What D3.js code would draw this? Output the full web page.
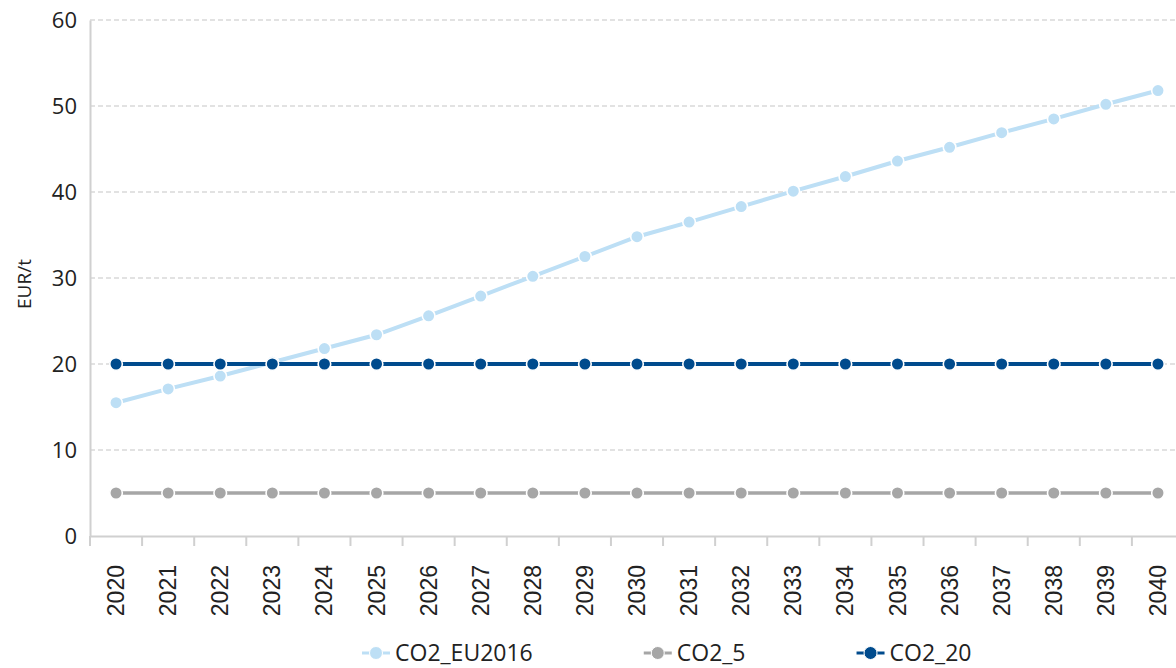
<!doctype html>
<html>
  <head>
    <meta charset="utf-8">
    <script src="https://cdnjs.cloudflare.com/ajax/libs/d3/7.8.5/d3.min.js"></script>
    <style>
      body { margin: 0; background: #fff; }
      svg { display: block; }
      .grid line { stroke: #d9d9d9; stroke-width: 1.5; stroke-dasharray: 5 3; }
      .ytick text { font-family: "Open Sans", sans-serif; font-size: 22px; fill: #222; }
      .xtick text { font-family: "Liberation Sans", Arial, sans-serif; font-size: 23px; fill: #222; }
      .legend text { font-family: "Open Sans", sans-serif; font-size: 23px; fill: #222; }
    </style>
  </head>
  <body>
    <svg id="chart" width="1176" height="668"></svg>
    <script>
      // chart data
      var years = ["2020","2021","2022","2023","2024","2025","2026","2027","2028","2029","2030",
                   "2031","2032","2033","2034","2035","2036","2037","2038","2039","2040"];
      var co2EU2016 = [15.5,17.1,18.6,20.2,21.8,23.4,25.6,27.9,30.2,32.5,34.8,
                       36.5,38.3,40.1,41.8,43.6,45.2,46.9,48.5,50.2,51.8];
      var co2_5  = [5,5,5,5,5,5,5,5,5,5,5,5,5,5,5,5,5,5,5,5,5];
      var co2_20 = [20,20,20,20,20,20,20,20,20,20,20,20,20,20,20,20,20,20,20,20,20];
      var yTicks = [0,10,20,30,40,50,60];

      var series = [
        { name: "CO2_EU2016", values: co2EU2016, color: "#bddff5", width: 4 },
        { name: "CO2_5",      values: co2_5,     color: "#a6a6a6", width: 3.5 },
        { name: "CO2_20",     values: co2_20,    color: "#004b8d", width: 4 }
      ];

      var svg = d3.select("#chart");
      var mLeft = 90, mRight = 1184, mTop = 20, mBottom = 536;

      var x = d3.scaleBand().domain(years).range([mLeft, mRight]);
      var y = d3.scaleLinear().domain([0, 60]).range([mBottom, mTop]);

      // dashed gridlines
      svg.append("g").attr("class", "grid")
        .selectAll("line").data(yTicks.filter(d => d > 0)).enter()
        .append("line")
          .attr("x1", mLeft).attr("x2", mRight)
          .attr("y1", d => y(d)).attr("y2", d => y(d));

      // y axis
      var yAxis = svg.append("g").attr("class", "ytick")
        .attr("transform", "translate(" + mLeft + ",0)")
        .call(d3.axisLeft(y).tickValues(yTicks).tickSize(0).tickPadding(13));
      yAxis.select(".domain").attr("stroke", "#d0d0d0").attr("stroke-width", 2);
      yAxis.selectAll("text").attr("dy", "0.35em");

      // x axis
      var xAxis = svg.append("g").attr("class", "xtick")
        .attr("transform", "translate(0," + mBottom + ")")
        .call(d3.axisBottom(x).tickSize(0));
      xAxis.select(".domain").attr("stroke", "#d0d0d0").attr("stroke-width", 2);
      xAxis.selectAll("text")
        .attr("transform", "rotate(-90)")
        .attr("text-anchor", "end")
        .attr("x", -29).attr("y", 0).attr("dy", "0.35em");

      // tick marks at category boundaries
      svg.append("g").selectAll("line").data(years).enter()
        .append("line")
          .attr("x1", d => x(d)).attr("x2", d => x(d))
          .attr("y1", mBottom).attr("y2", mBottom + 10)
          .attr("stroke", "#d0d0d0").attr("stroke-width", 2);

      // y axis title
      svg.append("text")
        .attr("transform", "translate(31," + ((mTop + mBottom) / 2 + 6) + ") rotate(-90)")
        .attr("text-anchor", "middle")
        .style("font-family", "Open Sans, sans-serif")
        .style("font-size", "19px")
        .attr("fill", "#222")
        .text("EUR/t");

      var line = d3.line()
        .x((d, i) => x(years[i]) + x.bandwidth() / 2)
        .y(d => y(d));

      series.forEach(function(s) {
        var g = svg.append("g");
        g.append("path")
          .datum(s.values)
          .attr("d", line)
          .attr("fill", "none")
          .attr("stroke", s.color)
          .attr("stroke-width", s.width);
        g.selectAll("circle").data(s.values).enter()
          .append("circle")
            .attr("cx", (d, i) => x(years[i]) + x.bandwidth() / 2)
            .attr("cy", d => y(d))
            .attr("r", 6.3)
            .attr("fill", s.color)
            .attr("stroke", "#fff")
            .attr("stroke-width", 1.6);
      });

      // legend
      var legend = svg.append("g").attr("class", "legend");
      var lx = 362, ly = 653;
      series.forEach(function(s) {
        var item = legend.append("g").attr("transform", "translate(" + lx + "," + ly + ")");
        item.append("line")
          .attr("x1", 0).attr("x2", 28)
          .attr("stroke", s.color).attr("stroke-width", 3);
        item.append("circle")
          .attr("cx", 14).attr("r", 6.5)
          .attr("fill", s.color).attr("stroke", "#fff").attr("stroke-width", 1);
        var t = item.append("text")
          .attr("x", 33).attr("dy", "0.35em")
          .text(s.name);
        lx += 33 + t.node().getComputedTextLength() + 111;
      });
    </script>
  </body>
</html>
